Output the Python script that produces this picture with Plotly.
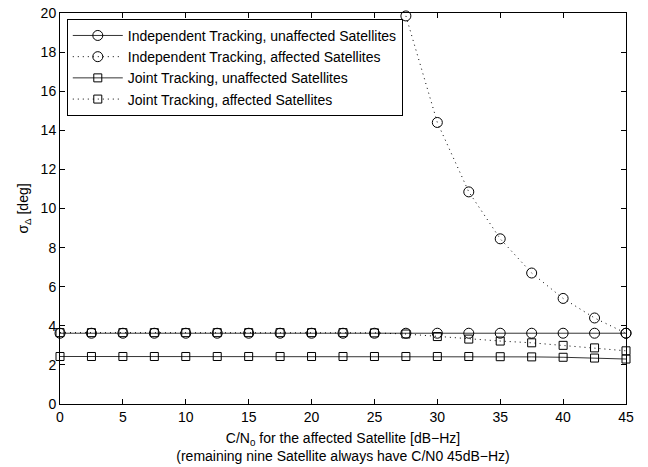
import plotly.graph_objects as go

cn0 = [0, 2.5, 5, 7.5, 10, 12.5, 15, 17.5, 20, 22.5, 25, 27.5, 30, 32.5, 35, 37.5, 40, 42.5, 45]

indep_unaff = [3.62] * 19
indep_aff_x = [27.5, 30, 32.5, 35, 37.5, 40, 42.5, 45]
indep_aff = [19.85, 14.4, 10.85, 8.45, 6.7, 5.4, 4.4, 3.62]
joint_unaff = [2.43, 2.43, 2.43, 2.43, 2.43, 2.43, 2.43, 2.43, 2.43, 2.43, 2.43,
               2.43, 2.43, 2.43, 2.42, 2.41, 2.39, 2.35, 2.3]
joint_aff = [3.65, 3.65, 3.65, 3.65, 3.65, 3.65, 3.65, 3.65, 3.65, 3.65, 3.64,
             3.58, 3.45, 3.32, 3.22, 3.13, 3.0, 2.87, 2.72]

names = ["Independent Tracking, unaffected Satellites",
         "Independent Tracking, affected Satellites",
         "Joint Tracking, unaffected Satellites",
         "Joint Tracking, affected Satellites"]

DOT = "1px,4px"

fig = go.Figure()
common = dict(mode="lines+markers", cliponaxis=False)
fig.add_trace(go.Scatter(x=cn0, y=indep_unaff, name=names[0],
                         line=dict(color="black", width=0.8, dash="solid"),
                         marker=dict(symbol="circle-open", size=10, color="black", line=dict(width=1)), **common))
fig.add_trace(go.Scatter(x=indep_aff_x, y=indep_aff, name=names[1],
                         line=dict(color="black", width=1, dash=DOT),
                         marker=dict(symbol="circle-open", size=10, color="black", line=dict(width=1)), **common))
fig.add_trace(go.Scatter(x=cn0, y=joint_unaff, name=names[2],
                         line=dict(color="black", width=0.8, dash="solid"),
                         marker=dict(symbol="square-open", size=8, color="black", line=dict(width=1)), **common))
fig.add_trace(go.Scatter(x=cn0, y=joint_aff, name=names[3],
                         line=dict(color="black", width=1, dash=DOT),
                         marker=dict(symbol="square-open", size=8, color="black", line=dict(width=1)), **common))

axis_common = dict(showgrid=False, zeroline=False, showline=True, linecolor="black", linewidth=1,
                   mirror="ticks", ticks="inside", ticklen=5, tickcolor="black", automargin=False,
                   tickfont=dict(size=14, color="black"))

fig.update_layout(
    template="none",
    width=648, height=467,
    margin=dict(l=60, r=22, t=13, b=63),
    paper_bgcolor="white", plot_bgcolor="white",
    font=dict(family="Liberation Sans, Arial, sans-serif", size=14, color="black"),
    xaxis=dict(range=[0, 45], tickmode="array", tickvals=[0, 5, 10, 15, 20, 25, 30, 35, 40, 45],
               title=dict(text="C/N<sub>0</sub> for the affected Satellite [dB\u2212Hz]<br>(remaining nine Satellite always have C/N0 45dB\u2212Hz)",
                          font=dict(size=14), standoff=9),
               **axis_common),
    yaxis=dict(range=[0, 20], tickmode="array", tickvals=list(range(0, 21, 2)),
               title=dict(text="\u03c3<sub>\u0394</sub> [deg]", font=dict(size=14), standoff=8),
               **axis_common),
    legend=dict(x=0.012, y=0.985, xanchor="left", yanchor="top",
                bgcolor="white", bordercolor="black", borderwidth=1,
                font=dict(size=14), tracegroupgap=0, itemwidth=50),
    showlegend=True,
)

fig.write_html("out.html", config={"displayModeBar": False},
               post_script="document.body.style.margin='0';")
